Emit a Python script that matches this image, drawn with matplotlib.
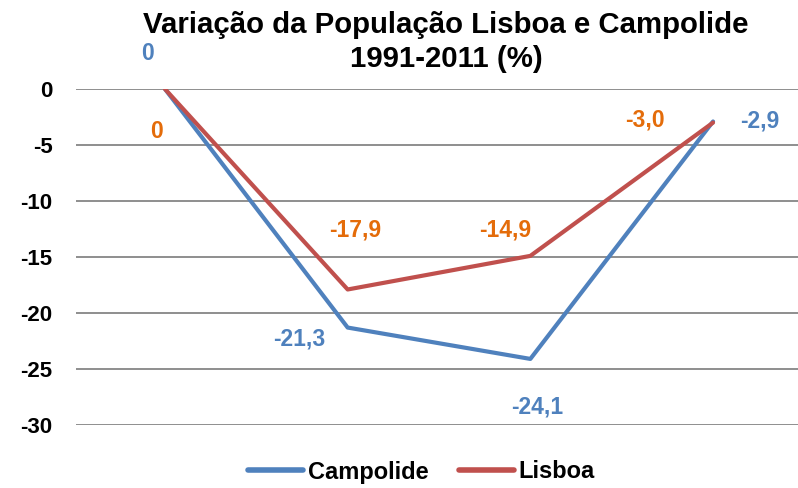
import matplotlib
matplotlib.use("Agg")
import matplotlib.pyplot as plt

categories = ["1991", "2001", "2011a", "2011b"]
campolide = [0, -21.3, -24.1, -2.9]
lisboa = [0, -17.9, -14.9, -3.0]
campolide_labels = ["0", "-21,3", "-24,1", "-2,9"]
lisboa_labels = ["0", "-17,9", "-14,9", "-3,0"]
yticks = [0, -5, -10, -15, -20, -25, -30]

plt.rcParams['font.family'] = ['Liberation Sans', 'DejaVu Sans']

fig = plt.figure(figsize=(7.98, 4.88), dpi=100)
ax = fig.add_axes([76/798, 1-425/488, 1-76/798, (425-89)/488])

x = list(range(len(categories)))
blue = "#4F81BD"
red = "#C0504D"
orange = "#E46C0A"

ax.plot(x, campolide, color=blue, lw=3, solid_capstyle='round', label="Campolide", zorder=3)
ax.plot(x, lisboa, color=red, lw=3, solid_capstyle='round', label="Lisboa", zorder=4)

ax.set_xlim(-0.487, 3.465)
ax.set_ylim(-30, 0)
ax.set_yticks(yticks)
ax.set_yticklabels([str(v) for v in yticks], fontsize=16, fontweight='bold')
ax.set_xticks([])
ax.tick_params(axis='y', length=0, pad=17)
for s in ax.spines.values():
    s.set_visible(False)
ax.grid(axis='y', color='#868686', lw=1.3, zorder=0)
ax.set_axisbelow(True)

c_off = [(-17, 36), (-48, -11), (7, -48), (47, 0)]
l_off = [(-8, -42), (8, 59), (-25, 26), (-68, 3)]
for i in x:
    ax.annotate(campolide_labels[i], (x[i], campolide[i]), xytext=c_off[i],
                textcoords='offset pixels', ha='center', va='center',
                color=blue, fontsize=16.5, fontweight='bold', annotation_clip=False)
    ax.annotate(lisboa_labels[i], (x[i], lisboa[i]), xytext=l_off[i],
                textcoords='offset pixels', ha='center', va='center',
                color=orange, fontsize=16.5, fontweight='bold', annotation_clip=False)

fig.text(446/798, 1-25/488, "Variação da População Lisboa e Campolide", ha='center', va='center',
         fontsize=21.2, fontweight='bold')
fig.text(446/798, 1-59/488, "1991-2011 (%)", ha='center', va='center',
         fontsize=21.2, fontweight='bold')

leg = fig.legend(loc='center', bbox_to_anchor=(0.528, 1-472/488), ncol=2, frameon=False,
                 prop={'size': 17, 'weight': 'bold'}, handlelength=2.33,
                 handletextpad=0.21, columnspacing=1.27)
for h in leg.get_lines():
    h.set_linewidth(4)
    h.set_solid_capstyle('round')

fig.savefig("out.png", dpi=100)
